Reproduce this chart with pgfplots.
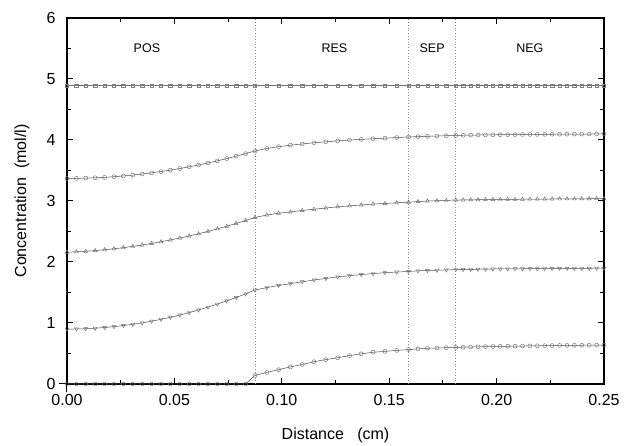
\documentclass[border=0pt]{standalone}
\usepackage{pgfplots}
\usepackage{pgfplotstable}
\pgfplotsset{compat=1.18}
\usepackage{fontspec}
\setmainfont{Liberation Sans}
\pgfplotstableread{
x s1 s2 s3 s4 s5
0 4.89 3.370 2.160 0.900 0
0.004375 4.89 3.371 2.167 0.902 0
0.00875 4.89 3.375 2.176 0.906 0
0.013125 4.89 3.380 2.187 0.914 0
0.0175 4.89 3.388 2.201 0.926 0
0.021875 4.89 3.398 2.217 0.940 0
0.02625 4.89 3.411 2.235 0.958 0
0.030625 4.89 3.425 2.256 0.978 0
0.035 4.89 3.442 2.279 1.002 0
0.039375 4.89 3.461 2.304 1.030 0
0.04375 4.89 3.483 2.331 1.060 0
0.048125 4.89 3.506 2.361 1.094 0
0.0525 4.89 3.532 2.393 1.130 0
0.056875 4.89 3.560 2.427 1.170 0
0.06125 4.89 3.591 2.463 1.214 0
0.065625 4.89 3.623 2.502 1.260 0
0.07 4.89 3.658 2.543 1.310 0
0.074375 4.89 3.695 2.586 1.362 0
0.07875 4.89 3.735 2.632 1.418 0
0.083125 4.89 3.776 2.680 1.478 0
0.0875 4.89 3.820 2.730 1.540 0.14
0.093 4.89 3.860 2.770 1.580 0.19
0.0985 4.89 3.890 2.800 1.615 0.235
0.104 4.89 3.915 2.820 1.645 0.28
0.1095 4.89 3.935 2.845 1.675 0.32
0.115 4.89 3.955 2.865 1.705 0.365
0.1205 4.89 3.970 2.885 1.730 0.40
0.126 4.89 3.985 2.905 1.755 0.43
0.1315 4.89 4.000 2.920 1.775 0.465
0.137 4.89 4.010 2.935 1.795 0.495
0.1425 4.89 4.020 2.950 1.810 0.52
0.148 4.89 4.030 2.960 1.825 0.535
0.1535 4.89 4.040 2.970 1.835 0.55
0.159 4.89 4.050 2.980 1.845 0.565
0.1634 4.89 4.055 2.990 1.855 0.575
0.1678 4.89 4.060 3.000 1.860 0.585
0.1722 4.89 4.065 3.005 1.865 0.590
0.1766 4.89 4.070 3.010 1.870 0.595
0.181 4.89 4.075 3.015 1.875 0.600
0.18445 4.89 4.078 3.017 1.877 0.603
0.1879 4.89 4.080 3.019 1.879 0.606
0.19135 4.89 4.082 3.021 1.881 0.609
0.1948 4.89 4.084 3.023 1.883 0.612
0.19825 4.89 4.085 3.025 1.885 0.614
0.2017 4.89 4.087 3.026 1.886 0.616
0.20515 4.89 4.088 3.027 1.887 0.618
0.2086 4.89 4.089 3.028 1.888 0.620
0.21205 4.89 4.090 3.029 1.889 0.622
0.2155 4.89 4.091 3.030 1.890 0.624
0.21895 4.89 4.092 3.031 1.891 0.626
0.2224 4.89 4.093 3.032 1.892 0.628
0.22585 4.89 4.094 3.033 1.893 0.630
0.2293 4.89 4.095 3.034 1.894 0.632
0.23275 4.89 4.096 3.035 1.895 0.633
0.2362 4.89 4.097 3.036 1.896 0.634
0.23965 4.89 4.097 3.036 1.896 0.635
0.2431 4.89 4.098 3.037 1.897 0.636
0.24655 4.89 4.099 3.038 1.898 0.637
0.25 4.89 4.100 3.038 1.898 0.638
}\datatable
\begin{document}
\begin{tikzpicture}
\begin{axis}[
  scale only axis,
  width=537pt, height=366pt,
  xmin=0, xmax=0.25, ymin=0, ymax=6,
  xtick={0,0.05,0.10,0.15,0.20,0.25},
  xticklabels={0.00,0.05,0.10,0.15,0.20,0.25},
  minor x tick num=1,
  ytick={0,1,2,3,4,5,6},
  minor y tick num=1,
  tick align=inside,
  major tick length=6pt,
  minor tick length=4pt,
  axis line style={line width=1.2pt},
  every tick/.style={black, line width=1pt},
  /pgf/number format/assume math mode=true,
  ticklabel style={font=\fontsize{16}{18}\selectfont},
  xticklabel style={yshift=-7pt},
  yticklabel style={xshift=-8pt},
  xlabel={Distance\ \ \ (cm)},
  ylabel={Concentration\ \ (mol/l)},
  every axis x label/.style={at={(axis description cs:0.5,0)}, yshift=-51pt, anchor=center, font=\fontsize{16}{18}\selectfont},
  every axis y label/.style={at={(axis description cs:0,0.5)}, xshift=-45pt, rotate=90, anchor=center, font=\fontsize{16}{18}\selectfont},
  clip=false,
]
\addplot[black!45, dotted, line width=0.8pt] coordinates {(0.0875,0) (0.0875,6)};
\addplot[black!45, dotted, line width=0.8pt] coordinates {(0.159,0) (0.159,6)};
\addplot[black!45, dotted, line width=0.8pt] coordinates {(0.181,0) (0.181,6)};
\addplot[black!55, line width=0.5pt, mark=square, mark size=1.7pt, mark options={solid, black!50, line width=0.45pt, fill=white}] table[x=x,y=s1] {\datatable};
\addplot[black!70, line width=0.5pt, mark=o, mark size=2pt, mark options={solid, black!55, line width=0.45pt, fill=white}] table[x=x,y=s2] {\datatable};
\addplot[black!70, line width=0.5pt, mark=triangle, mark size=2.2pt, mark options={solid, black!55, line width=0.45pt, fill=white}] table[x=x,y=s3] {\datatable};
\addplot[black!70, line width=0.5pt, mark=triangle, mark size=2.2pt, mark options={solid, black!55, line width=0.45pt, fill=white, rotate=180}] table[x=x,y=s4] {\datatable};
\addplot[black!70, line width=0.5pt, mark=o, mark size=2pt, mark options={solid, black!55, line width=0.45pt, fill=white}] table[x=x,y=s5] {\datatable};
\node[font=\fontsize{12.5}{15}\selectfont] at (axis cs:0.0372,5.5) {POS};
\node[font=\fontsize{12.5}{15}\selectfont] at (axis cs:0.1245,5.5) {RES};
\node[font=\fontsize{12.5}{15}\selectfont] at (axis cs:0.170,5.5) {SEP};
\node[font=\fontsize{12.5}{15}\selectfont] at (axis cs:0.2155,5.5) {NEG};
\draw[line width=1pt] (axis description cs:0,0) -- ++(-8pt,0pt);
\draw[line width=1pt] (axis description cs:0,0) -- ++(0pt,-8pt);
\end{axis}
\path (current axis.south west) ++(-67pt,-60pt) coordinate (bl);
\path (current axis.north east) ++(25pt,18pt) coordinate (tr);
\path (bl) rectangle (tr);
\end{tikzpicture}
\end{document}
